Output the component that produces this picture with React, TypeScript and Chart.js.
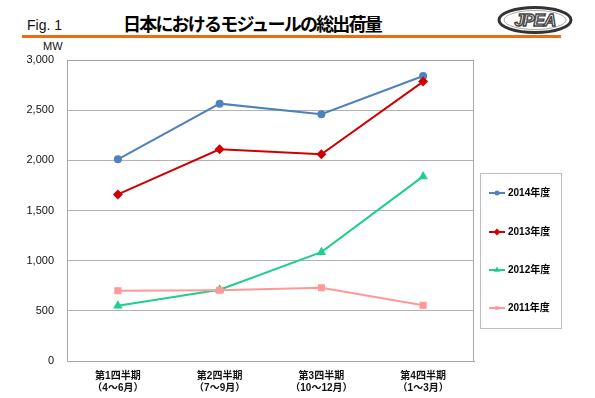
import React, { useEffect, useRef } from "react";
import { Chart, registerables } from "chart.js";

Chart.register(...registerables);

const categories: string[][] = [
  ["第1四半期", "（4～6月）"],
  ["第2四半期", "（7～9月）"],
  ["第3四半期", "（10～12月）"],
  ["第4四半期", "（1～3月）"],
];
const seriesNames = ["2014年度", "2013年度", "2012年度", "2011年度"];
const fy2014 = [2010, 2565, 2460, 2840];
const fy2013 = [1660, 2110, 2060, 2785];
const fy2012 = [550, 710, 1085, 1840];
const fy2011 = [700, 705, 730, 555];
const yMin = 0;
const yMax = 3000;
const yStep = 500;

const colors = ["#4f81bd", "#d00000", "#1fcf8c", "#ff9896"];
const styles = ["circle", "rectRot", "triangle", "rect"];
const radii = [4, 5, 5.5, 5];

const FONT = "'Liberation Sans', Arial, 'Noto Sans CJK JP', sans-serif";

function drawMarker(ctx: CanvasRenderingContext2D, style: string, x: number, y: number, r: number) {
  ctx.beginPath();
  if (style === "circle") {
    ctx.arc(x, y, r, 0, Math.PI * 2);
  } else if (style === "rectRot") {
    ctx.moveTo(x, y - r);
    ctx.lineTo(x + r, y);
    ctx.lineTo(x, y + r);
    ctx.lineTo(x - r, y);
    ctx.closePath();
  } else if (style === "triangle") {
    const h = r * 0.866;
    ctx.moveTo(x, y - r);
    ctx.lineTo(x + h, y + r / 2);
    ctx.lineTo(x - h, y + r / 2);
    ctx.closePath();
  } else {
    ctx.rect(x - r / 2, y - r / 2, r, r);
  }
  ctx.fill();
}

const frameAndLegend = {
  id: "frameAndLegend",
  beforeDatasetsDraw(chart: any) {
    const { ctx, chartArea } = chart;
    ctx.save();
    ctx.strokeStyle = "#a6a6a6";
    ctx.lineWidth = 1;
    ctx.strokeRect(
      Math.round(chartArea.left) + 0.5,
      Math.round(chartArea.top) + 0.5,
      Math.round(chartArea.right - chartArea.left) - 1,
      Math.round(chartArea.bottom - chartArea.top)
    );
    ctx.restore();
  },
  afterDraw(chart: any) {
    const { ctx } = chart;
    ctx.save();
    ctx.strokeStyle = "#bdbdbd";
    ctx.lineWidth = 1;
    ctx.strokeRect(480.5, 173.5, 81, 155);
    const ys = [193, 232, 270, 308];
    chart.data.datasets.forEach((ds: any, i: number) => {
      const y = ys[i];
      ctx.strokeStyle = ds.borderColor;
      ctx.fillStyle = ds.borderColor;
      ctx.lineWidth = 2;
      ctx.beginPath();
      ctx.moveTo(489, y);
      ctx.lineTo(505, y);
      ctx.stroke();
      drawMarker(ctx, ds.pointStyle, 497, y, i === 0 ? 2.5 : 3.5);
      ctx.fillStyle = "#000";
      ctx.font = `bold 10px ${FONT}`;
      ctx.textBaseline = "middle";
      ctx.textAlign = "left";
      ctx.fillText(ds.label, 508, y + 0.5);
    });
    ctx.restore();
  },
};

export default function App() {
  const ref = useRef<HTMLCanvasElement | null>(null);

  useEffect(() => {
    if (!ref.current) return;
    const series = [fy2014, fy2013, fy2012, fy2011];
    const chart = new Chart(ref.current, {
      type: "line",
      data: {
        labels: categories,
        datasets: series.map((d, i) => ({
          label: seriesNames[i],
          data: d,
          borderColor: colors[i],
          backgroundColor: colors[i],
          pointBackgroundColor: colors[i],
          pointBorderColor: colors[i],
          pointStyle: styles[i],
          pointRadius: radii[i],
          pointBorderWidth: 0,
          borderWidth: 2,
          tension: 0,
          order: 3 - i,
        })),
      } as any,
      options: {
        animation: false,
        responsive: false,
        layout: { padding: { left: 0, right: 121, top: 60, bottom: 0 } },
        plugins: {
          legend: { display: false },
          tooltip: { enabled: false },
          title: { display: false },
        },
        scales: {
          x: {
            offset: true,
            grid: { display: false, drawTicks: false },
            border: { display: true, color: "#a6a6a6", width: 1 },
            ticks: {
              padding: 9,
              color: "#111",
              maxRotation: 0,
              autoSkip: false,
              font: { family: FONT, size: 10, weight: "bold", lineHeight: 1.2 },
            },
            afterFit: (s: any) => {
              s.height = 37;
            },
          },
          y: {
            min: yMin,
            max: yMax,
            grid: { color: "#b3b3b3", lineWidth: 1, drawTicks: false },
            border: { display: true, color: "#a6a6a6", width: 1 },
            ticks: {
              stepSize: yStep,
              padding: 13,
              color: "#111",
              font: { family: FONT, size: 11 },
              callback: (v: any) => Number(v).toLocaleString("en-US"),
            },
            afterFit: (s: any) => {
              s.width = 67;
            },
          },
        },
      } as any,
      plugins: [frameAndLegend],
    });
    return () => chart.destroy();
  }, []);

  return (
    <div
      style={{
        position: "fixed",
        left: 0,
        top: 0,
        width: 595,
        height: 398,
        background: "#fff",
        overflow: "hidden",
      }}
    >
      <div
        style={{
          position: "absolute",
          left: 27,
          top: 18,
          fontFamily: FONT,
          fontSize: 14,
          lineHeight: "14px",
          color: "#111",
          whiteSpace: "nowrap",
        }}
      >
        Fig. 1
      </div>
      <div
        style={{
          position: "absolute",
          left: 123,
          top: 14,
          fontFamily: "'Noto Sans CJK JP', sans-serif",
          fontWeight: "bold",
          fontSize: 18,
          lineHeight: "18px",
          letterSpacing: "-1.8px",
          color: "#000",
          whiteSpace: "nowrap",
        }}
      >
        日本におけるモジュールの総出荷量
      </div>
      <svg
        width={78}
        height={30}
        style={{ position: "absolute", left: 496, top: 5 }}
      >
        <ellipse cx={39} cy={15} rx={36} ry={12.5} fill="#fff" stroke="#333" strokeWidth={3} />
        <ellipse cx={39} cy={15} rx={31} ry={9.5} fill="none" stroke="#aaa" strokeWidth={1} />
        <text
          x={39}
          y={21}
          textAnchor="middle"
          fontFamily="'Liberation Sans', Arial, sans-serif"
          fontWeight="bold"
          fontStyle="italic"
          fontSize={17}
          fill="#fff"
          stroke="#444"
          strokeWidth={1.4}
          letterSpacing="-0.8"
        >
          JPEA
        </text>
      </svg>
      <div
        style={{
          position: "absolute",
          left: 22,
          top: 35,
          width: 539,
          height: 3,
          background: "#f26a0d",
        }}
      />
      <div
        style={{
          position: "absolute",
          left: 43,
          top: 41,
          fontFamily: FONT,
          fontSize: 11,
          lineHeight: "11px",
          color: "#111",
        }}
      >
        MW
      </div>
      <canvas
        ref={ref}
        width={595}
        height={398}
        style={{ position: "absolute", left: 0, top: 0, width: 595, height: 398 }}
      />
    </div>
  );
}
